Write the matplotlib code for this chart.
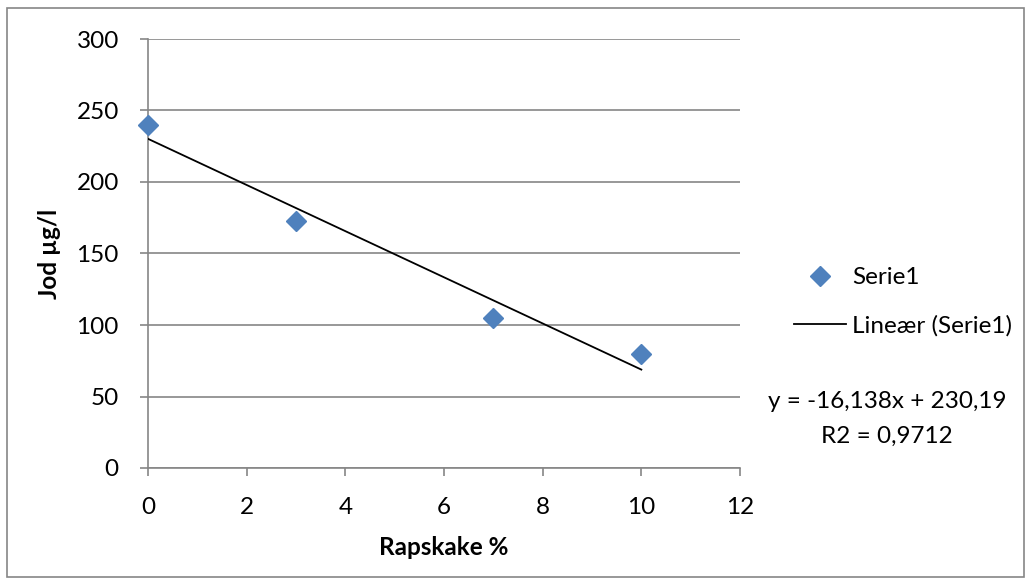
import numpy as np
import matplotlib
matplotlib.use('Agg')
import matplotlib.pyplot as plt
from matplotlib.lines import Line2D
from matplotlib.patches import Rectangle

plt.rcParams['font.family'] = ['Lato', 'DejaVu Sans']

# data
rapskake = [0, 3, 7, 10]
jod = [240, 173, 105, 80]
x_ticks = [0, 2, 4, 6, 8, 10, 12]
y_ticks = [0, 50, 100, 150, 200, 250, 300]

grey = '#868686'
blue = '#4F81BD'
fs = 17.5

fig = plt.figure(figsize=(10.31, 5.85), dpi=100)
ax = fig.add_axes([148/1031, 1 - 468/585, 592/1031, 429/585])

# trendline
slope, intercept = np.polyfit(rapskake, jod, 1)
fit = np.polyval([slope, intercept], rapskake)
r2 = 1 - np.sum((np.array(jod) - fit) ** 2) / np.sum((np.array(jod) - np.mean(jod)) ** 2)
xs = np.array([min(rapskake), max(rapskake)])
ax.plot(xs, slope * xs + intercept, color='black', lw=1.3, zorder=3)

ax.plot(rapskake, jod, 'D', color=blue, markersize=10, zorder=4, clip_on=False)

ax.set_xlim(0, 12)
ax.set_ylim(0, 300)
ax.set_xticks(x_ticks)
ax.set_yticks(y_ticks)
ax.yaxis.grid(True, color=grey, lw=1.2)
ax.set_axisbelow(True)
for s in ['top', 'right']:
    ax.spines[s].set_visible(False)
for s in ['left', 'bottom']:
    ax.spines[s].set_color(grey)
    ax.spines[s].set_linewidth(1.2)
ax.tick_params(axis='both', direction='out', length=6, width=1.2, color=grey,
               labelsize=fs, labelcolor='black')
ax.tick_params(axis='x', pad=15)
ax.tick_params(axis='y', pad=15)

ax.set_xlabel('Rapskake %', fontsize=fs, fontweight='bold', labelpad=13)
ax.set_ylabel('Jod µg/l', fontsize=fs, fontweight='bold', labelpad=11)

handles = [Line2D([], [], marker='D', color=blue, ls='none', markersize=10),
           Line2D([], [], color='black', lw=1.3)]
fig.legend(handles, ['Serie1', 'Lineær (Serie1)'], loc='center left',
           bbox_to_anchor=(794/1031, 1 - 302/585), frameon=False, fontsize=fs,
           borderpad=0, borderaxespad=0,
           handlelength=2.15, handletextpad=0.25, labelspacing=1.1)

eq = 'y = {}x + {}'.format(f'{slope:.3f}'.replace('.', ','), f'{intercept:.2f}'.replace('.', ','))
fig.text(887/1031, 1 - 402/585, eq, ha='center', va='center', fontsize=fs)
fig.text(887/1031, 1 - 436/585, 'R2 = ' + f'{r2:.4f}'.replace('.', ','),
         ha='center', va='center', fontsize=fs)

# outer chart border
fig.patches.append(Rectangle((7/1031, 8/585), 1017/1031, 569/585, transform=fig.transFigure,
                             fill=False, edgecolor=grey, lw=1.2))

fig.savefig('out.png', dpi=100)
